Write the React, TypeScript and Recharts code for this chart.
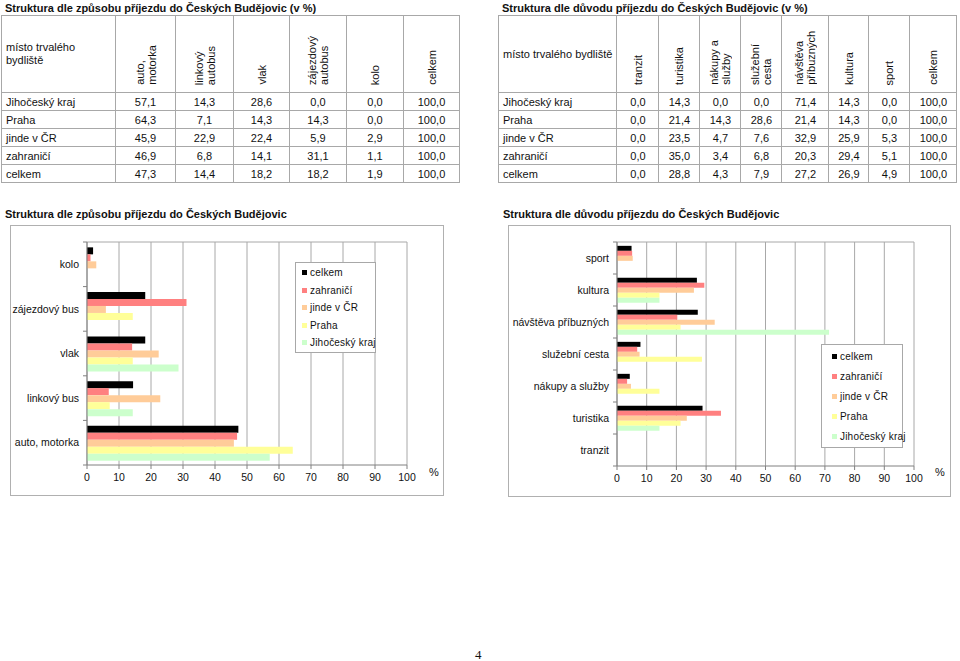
import React from 'react'
import { BarChart, Bar, XAxis, YAxis, CartesianGrid, Legend } from 'recharts'

const FONT = "'Liberation Sans', Arial, sans-serif"

// table row labels (place of residence)
const regions = ['Jihočeský kraj', 'Praha', 'jinde v ČR', 'zahraničí', 'celkem']

// table 1: mode of arrival
const modeHeaders = ['auto,\nmotorka', 'linkový\nautobus', 'vlak', 'zájezdový\nautobus', 'kolo', 'celkem']
const modeJihocesky = [57.1, 14.3, 28.6, 0.0, 0.0, 100.0]
const modePraha = [64.3, 7.1, 14.3, 14.3, 0.0, 100.0]
const modeJinde = [45.9, 22.9, 22.4, 5.9, 2.9, 100.0]
const modeZahranici = [46.9, 6.8, 14.1, 31.1, 1.1, 100.0]
const modeCelkem = [47.3, 14.4, 18.2, 18.2, 1.9, 100.0]

// table 2: reason of arrival
const reasonHeaders = ['tranzit', 'turistika', 'nákupy a\nslužby', 'služební\ncesta', 'návštěva\npříbuzných', 'kultura', 'sport', 'celkem']
const reasonJihocesky = [0.0, 14.3, 0.0, 0.0, 71.4, 14.3, 0.0, 100.0]
const reasonPraha = [0.0, 21.4, 14.3, 28.6, 21.4, 14.3, 0.0, 100.0]
const reasonJinde = [0.0, 23.5, 4.7, 7.6, 32.9, 25.9, 5.3, 100.0]
const reasonZahranici = [0.0, 35.0, 3.4, 6.8, 20.3, 29.4, 5.1, 100.0]
const reasonCelkem = [0.0, 28.8, 4.3, 7.9, 27.2, 26.9, 4.9, 100.0]

// chart category labels (same order as table columns, without celkem)
const modeCategories = ['auto, motorka', 'linkový bus', 'vlak', 'zájezdový bus', 'kolo']
const reasonCategories = ['tranzit', 'turistika', 'nákupy a služby', 'služební cesta', 'návštěva příbuzných', 'kultura', 'sport']

const xTicks = [0, 10, 20, 30, 40, 50, 60, 70, 80, 90, 100]

const SERIES = [
  { key: 'celkem', color: '#000000' },
  { key: 'zahraničí', color: '#FF8080' },
  { key: 'jinde v ČR', color: '#FFCC99' },
  { key: 'Praha', color: '#FFFF99' },
  { key: 'Jihočeský kraj', color: '#CCFFCC' },
]

const fmt = (v: number) => v.toFixed(1).replace('.', ',')

function buildData(cats: string[], celkem: number[], zahr: number[], jinde: number[], praha: number[], jihoc: number[]) {
  // top of the chart = last column of the table
  return cats
    .map((name, i) => ({
      name,
      'celkem': celkem[i],
      'zahraničí': zahr[i],
      'jinde v ČR': jinde[i],
      'Praha': praha[i],
      'Jihočeský kraj': jihoc[i],
    }))
    .reverse()
}

const modeData = buildData(modeCategories, modeCelkem, modeZahranici, modeJinde, modePraha, modeJihocesky)
const reasonData = buildData(reasonCategories, reasonCelkem, reasonZahranici, reasonJinde, reasonPraha, reasonJihocesky)

const cellBorder = '1px solid #a8a8a8'

function DataTable({ left, top, widths, headers, rows, firstHeader, headerWrap }: any) {
  return (
    <table
      style={{
        position: 'absolute', left, top, borderCollapse: 'collapse', tableLayout: 'fixed',
        fontFamily: FONT, fontSize: 11, color: '#111',
      }}
    >
      <colgroup>
        {widths.map((w: number, i: number) => <col key={i} style={{ width: w }} />)}
      </colgroup>
      <tbody>
        <tr style={{ height: 77 }}>
          <td style={{ border: cellBorder, padding: '0 4px', verticalAlign: 'middle', whiteSpace: headerWrap ? 'pre' : 'nowrap', lineHeight: '13px' }}>
            {firstHeader}
          </td>
          {headers.map((h: string, i: number) => (
            <td key={i} style={{ border: cellBorder, padding: '0 0 5px 0', verticalAlign: 'bottom', textAlign: 'center' }}>
              <div style={{
                display: 'inline-block', writingMode: 'vertical-rl', transform: 'rotate(180deg)',
                whiteSpace: 'pre', lineHeight: '12px', textAlign: 'left',
              }}>{h}</div>
            </td>
          ))}
        </tr>
        {rows.map((r: number[], ri: number) => (
          <tr key={ri} style={{ height: 18 }}>
            <td style={{ border: cellBorder, padding: '0 4px', whiteSpace: 'nowrap' }}>{regions[ri]}</td>
            {r.map((v, ci) => (
              <td key={ci} style={{ border: cellBorder, padding: 0, textAlign: 'center' }}>{fmt(v)}</td>
            ))}
          </tr>
        ))}
      </tbody>
    </table>
  )
}

const CategoryTick = (props: any) => {
  const { x, y, payload, index, visibleTicksCount } = props
  const axisX = x + 8
  const half = payload.offset || 0
  return (
    <g>
      <text x={x} y={y} dy="0.35em" textAnchor="end" fontSize={10.5} fill="#111" fontFamily={FONT}>
        {payload.value}
      </text>
      <line x1={axisX - 4} x2={axisX} y1={y - half} y2={y - half} stroke="#808080" />
      {index === visibleTicksCount - 1 && (
        <line x1={axisX - 4} x2={axisX} y1={y + half} y2={y + half} stroke="#808080" />
      )}
    </g>
  )
}

// legend keeps the series order of the original (celkem first)
const makeLegend = (itemHeight: number, markerLeft: number) => (props: any) => {
  const payload = props.payload || []
  const items = SERIES.map(s => {
    const p = payload.find((q: any) => q.value === s.key)
    return { value: s.key, color: p ? p.color : s.color }
  })
  return (
    <div style={{ background: '#fff', border: '1px solid #a8a8a8', fontFamily: FONT, fontSize: 10, color: '#111', boxSizing: 'border-box', paddingTop: 1 }}>
      {items.map(p => (
        <div key={p.value} style={{ height: itemHeight, display: 'flex', alignItems: 'center', paddingLeft: markerLeft, letterSpacing: 0.2, whiteSpace: 'nowrap' }}>
          <span style={{ display: 'inline-block', width: 5, height: 5, background: p.color, marginRight: 3, flex: 'none' }} />
          {p.value}
        </div>
      ))}
    </div>
  )
}

function HBarChart({ data, width, height, yWidth, legendPos, legendItemHeight, markerLeft }: any) {
  return (
    <BarChart
      width={width}
      height={height}
      data={data}
      layout="vertical"
      margin={{ top: 16, right: 36, bottom: 0, left: 0 }}
      barCategoryGap="12%"
      barGap={0}
    >
      <CartesianGrid
        stroke="#a8a8a8"
        horizontalCoordinatesGenerator={({ offset }: any) => [offset.top]}
      />
      <XAxis
        type="number"
        domain={[0, 100]}
        ticks={xTicks}
        interval={0}
        height={30}
        tick={{ fontSize: 10.5, fill: '#111', fontFamily: FONT }}
        tickSize={4}
        tickMargin={5}
        stroke="#808080"
      />
      <YAxis
        type="category"
        dataKey="name"
        width={yWidth}
        tick={<CategoryTick />}
        tickLine={false}
        tickSize={0}
        tickMargin={8}
        interval={0}
        stroke="#808080"
      />
      <Legend
        layout="vertical"
        align="center"
        verticalAlign="middle"
        content={makeLegend(legendItemHeight, markerLeft)}
        wrapperStyle={{ position: 'absolute', ...legendPos }}
      />
      {SERIES.map(s => (
        <Bar key={s.key} dataKey={s.key} name={s.key} fill={s.color} isAnimationActive={false} />
      ))}
    </BarChart>
  )
}

const titleStyle: React.CSSProperties = {
  position: 'absolute', fontFamily: FONT, fontWeight: 'bold', fontSize: 11, color: '#111', whiteSpace: 'nowrap',
}

export default function App() {
  return (
    <div style={{ position: 'absolute', left: 0, top: 0, width: 960, height: 661, background: '#fff', overflow: 'hidden' }}>
      <div style={{ ...titleStyle, left: 5, top: 2 }}>Struktura dle způsobu příjezdu do Českých Budějovic (v %)</div>
      <DataTable
        left={1}
        top={15}
        widths={[114, 60, 58, 56, 57, 57, 56]}
        headers={modeHeaders}
        rows={[modeJihocesky, modePraha, modeJinde, modeZahranici, modeCelkem]}
        firstHeader={'místo trvalého\nbydliště'}
        headerWrap
      />

      <div style={{ ...titleStyle, left: 502, top: 2 }}>Struktura dle důvodu příjezdu do Českých Budějovic (v %)</div>
      <DataTable
        left={498}
        top={15}
        widths={[117, 42, 41, 41, 41, 47, 40, 41, 47]}
        headers={reasonHeaders}
        rows={[reasonJihocesky, reasonPraha, reasonJinde, reasonZahranici, reasonCelkem]}
        firstHeader={'místo trvalého bydliště'}
      />

      <div style={{ ...titleStyle, left: 5, top: 208 }}>Struktura dle způsobu příjezdu do Českých Budějovic</div>
      <div style={{ position: 'absolute', left: 10, top: 225, width: 434, height: 271, border: '1px solid #b0b0b0', boxSizing: 'border-box' }}>
        <HBarChart
          data={modeData}
          width={432}
          height={269}
          yWidth={76}
          legendPos={{ left: 284, top: 36, width: 81 }}
          legendItemHeight={17.5}
          markerLeft={6}
        />
        <div style={{ position: 'absolute', left: 418, top: 240, fontFamily: FONT, fontSize: 11, color: '#111' }}>%</div>
      </div>

      <div style={{ ...titleStyle, left: 503, top: 208 }}>Struktura dle důvodu příjezdu do Českých Budějovic</div>
      <div style={{ position: 'absolute', left: 508, top: 225, width: 443, height: 272, border: '1px solid #b0b0b0', boxSizing: 'border-box' }}>
        <HBarChart
          data={reasonData}
          width={441}
          height={270}
          yWidth={108}
          legendPos={{ left: 312, top: 118, width: 82 }}
          legendItemHeight={20.2}
          markerLeft={10}
        />
        <div style={{ position: 'absolute', left: 426, top: 240, fontFamily: FONT, fontSize: 11, color: '#111' }}>%</div>
      </div>

      <div style={{ position: 'absolute', left: 475, top: 647, fontFamily: "'Liberation Serif', serif", fontSize: 13, color: '#111' }}>4</div>
    </div>
  )
}
